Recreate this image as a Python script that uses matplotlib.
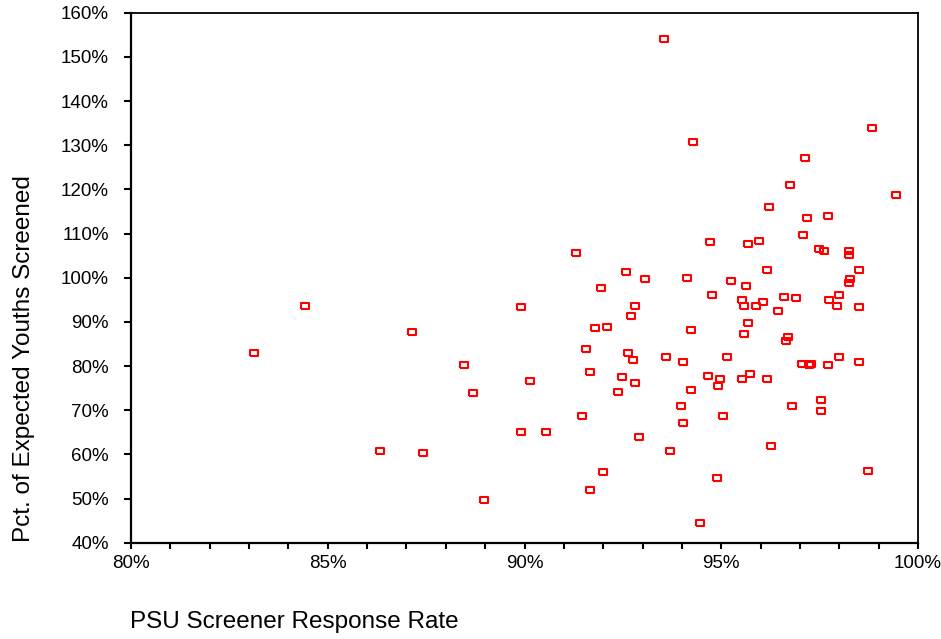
import numpy as np
import matplotlib
matplotlib.use('Agg')
import matplotlib.pyplot as plt
from matplotlib.ticker import PercentFormatter, MultipleLocator

plt.rcParams['font.family'] = ['Liberation Sans', 'DejaVu Sans']

# PSU screener response rate (%) and pct. of expected youths screened (%)
response_rate = [
    83.13, 84.41, 86.34, 87.14, 87.41, 88.47, 88.68, 88.96, 89.91, 89.91,
    90.13, 90.55, 91.31, 91.47, 91.57, 91.67, 91.67, 91.79, 91.94, 92.00,
    92.10, 92.37, 92.48, 92.58, 92.64, 92.70, 92.75, 92.80, 92.80, 92.90,
    93.06, 93.54, 93.60, 93.70, 94.45, 94.03, 93.97, 94.03, 94.14, 94.24,
    94.24, 94.29, 94.66, 94.71, 94.77, 94.88, 94.93, 94.98, 95.04, 95.15,
    95.26, 95.53, 95.52, 95.58, 95.58, 95.63, 95.68, 95.68, 95.74, 95.89,
    95.95, 96.05, 96.16, 96.16, 96.21, 96.26, 96.43, 96.59, 96.70, 96.65,
    96.75, 96.80, 96.91, 97.07, 97.04, 97.12, 97.17, 97.22, 97.29, 97.49,
    97.54, 97.54, 97.60, 97.71, 97.71, 97.75, 97.93, 97.98, 97.98, 98.24,
    98.24, 98.28, 98.24, 98.50, 98.50, 98.50, 98.72, 98.83, 99.43,
]
pct_screened = [
    83.0, 93.7, 60.7, 87.7, 60.3, 80.2, 73.8, 49.6, 93.3, 65.1,
    76.6, 65.1, 105.6, 68.7, 83.8, 78.7, 51.9, 88.5, 97.6, 55.9,
    88.9, 74.2, 77.5, 101.2, 83.0, 91.3, 81.4, 93.7, 76.2, 63.9,
    99.7, 154.0, 82.1, 60.7, 44.4, 81.0, 71.0, 67.1, 100.0, 88.2,
    74.6, 130.7, 77.8, 108.0, 96.1, 54.7, 75.4, 77.0, 68.7, 82.1,
    99.3, 94.9, 77.0, 93.7, 87.3, 98.1, 107.6, 89.8, 78.2, 93.7,
    108.4, 94.5, 101.7, 77.0, 115.9, 61.9, 92.5, 95.7, 86.5, 85.7,
    121.1, 71.0, 95.3, 109.6, 80.5, 127.0, 113.5, 80.2, 80.5, 106.4,
    72.2, 69.8, 106.0, 113.9, 80.2, 94.9, 93.7, 96.1, 82.1, 106.1,
    105.1, 99.7, 98.9, 101.7, 93.3, 81.0, 56.3, 133.8, 118.7,
]

# slightly wide rectangle marker like the original
r = 1.3
box = [(-r, -1), (r, -1), (r, 1), (-r, 1), (-r, -1)]

fig = plt.figure(figsize=(9.41, 6.39), dpi=100)
ax = fig.add_axes([131 / 941, 1 - 542.7 / 639, (918 - 131) / 941, (542.7 - 12.7) / 639])

ax.plot(response_rate, pct_screened, linestyle='none', marker=box,
        markersize=6.0, markerfacecolor='none', markeredgecolor='#ff0000',
        markeredgewidth=1.5)

ax.set_xlim(80, 100)
ax.set_ylim(40, 160)
ax.xaxis.set_major_locator(MultipleLocator(5))
ax.xaxis.set_minor_locator(MultipleLocator(1))
ax.yaxis.set_major_locator(MultipleLocator(10))
ax.xaxis.set_major_formatter(PercentFormatter(decimals=0))
ax.yaxis.set_major_formatter(PercentFormatter(decimals=0))

ax.tick_params(axis='y', which='major', direction='out', length=5, width=1.5,
               pad=11, labelsize=13.5)
ax.tick_params(axis='x', which='both', direction='out', length=4.5, width=1.5,
               pad=4, labelsize=13.5)

for s in ['left', 'bottom']:
    ax.spines[s].set_linewidth(1.6)
for s in ['top', 'right']:
    ax.spines[s].set_linewidth(1.3)

fig.text(130 / 941, 1 - 622 / 639, 'PSU Screener Response Rate',
         ha='left', va='center', fontsize=17.5)
fig.text(24 / 941, 1 - 542 / 639, 'Pct. of Expected Youths Screened',
         ha='center', va='bottom', rotation=90, fontsize=17.5)

fig.savefig('out.png', dpi=100)
